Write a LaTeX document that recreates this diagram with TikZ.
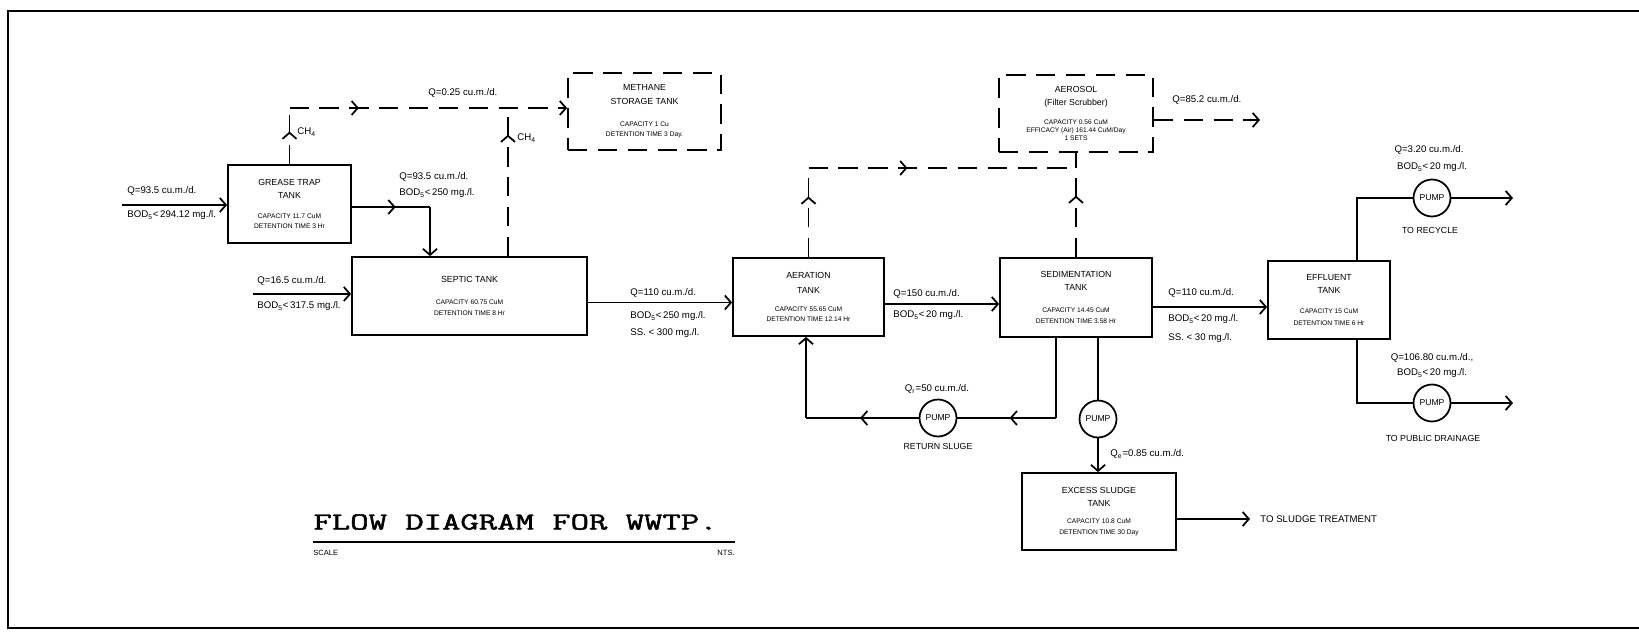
\documentclass[tikz,border=0pt]{standalone}
\usepackage{fontspec}
\setmainfont{Liberation Sans}
\newfontfamily\titlefont{Latin Modern Mono}[AutoFakeBold=1.6]
\usetikzlibrary{arrows.meta,positioning,decorations.markings}

\newcommand{\tanknote}{\fontsize{3.8}{7.5}\selectfont}
\newcommand{\bod}{BOD\textsubscript{5}<\,}

\begin{document}
\begin{tikzpicture}[x=0.02cm, y=-0.02cm,
    >={Straight Barb[length=3.5pt,width=8pt]},
    tank/.style={draw, line width=1pt, inner sep=0pt, align=center, font=\fontsize{5}{7.5}\selectfont},
    gastank/.style={tank, dash pattern=on 11pt off 6pt},
    pump/.style={draw, circle, line width=1pt, minimum size=0.74cm, inner sep=0pt, font=\fontsize{4.9}{6}\selectfont},
    lbl/.style={font=\fontsize{5.5}{7}\selectfont, inner sep=0pt},
    dest/.style={font=\fontsize{5}{6}\selectfont, inner sep=0pt},
    pipe/.style={line width=1pt},
    flow/.style={pipe, ->},
    gas/.style={pipe, dash pattern=on 11pt off 6pt},
    midarrow/.style={postaction={decorate}, decoration={markings, mark=at position #1 with {\arrow{>}}}},
]
\useasboundingbox (0,0) rectangle (1639,635);

% sheet border
\draw[line width=1pt] (1639,11) -- (8,11) -- (8,628) -- (1639,628);

% Tanks
\node[tank, minimum width=2.46cm, minimum height=1.56cm] (grease) at (289.5,204)
    {GREASE TRAP\\TANK\\[3.5pt]\tanknote CAPACITY 11.7 CuM\\[-1.5pt]\tanknote DETENTION TIME 3 Hr};
\node[tank, minimum width=4.70cm, minimum height=1.56cm] (septic) at (469.5,296)
    {SEPTIC TANK\\[5pt]\tanknote CAPACITY 60.75 CuM\\[-1.5pt]\tanknote DETENTION TIME 8 Hr};
\node[gastank, minimum width=3.06cm, minimum height=1.54cm] (methane) at (644.5,111.5)
    {METHANE\\STORAGE TANK\\[5pt]\tanknote CAPACITY 1 Cu\\[-1.5pt]\tanknote DETENTION TIME 3 Day.};
\node[tank, minimum width=3.02cm, minimum height=1.56cm] (aeration) at (808.5,297)
    {AERATION\\[1.5pt]TANK\\[2.5pt]\tanknote CAPACITY 55.65 CuM\\[-1.5pt]\tanknote DETENTION TIME 12.14 Hr};
\node[tank, minimum width=3.04cm, minimum height=1.58cm] (sed) at (1076,297.5)
    {SEDIMENTATION\\TANK\\[5pt]\tanknote CAPACITY 14.45 CuM\\[-1.5pt]\tanknote DETENTION TIME 3.58 Hr};
\node[gastank, minimum width=3.08cm, minimum height=1.54cm] (aerosol) at (1076,113.5)
    {AEROSOL\\(Filter Scrubber)\\[3pt]\tanknote CAPACITY 0.56 CuM\\[-3pt]\tanknote EFFICACY (Air) 161.44 CuM/Day\\[-3pt]\tanknote 1 SETS};
\node[tank, minimum width=2.44cm, minimum height=1.56cm] (effluent) at (1329,300)
    {EFFLUENT\\TANK\\[4pt]\tanknote CAPACITY 15 CuM\\[-1pt]\tanknote DETENTION TIME 6 Hr};
\node[tank, minimum width=3.08cm, minimum height=1.54cm] (excess) at (1099,511.5)
    {EXCESS SLUDGE\\TANK\\[2pt]\tanknote CAPACITY 10.8 CuM\\[-1.5pt]\tanknote DETENTION TIME 30 Day};

% Pumps
\node[pump] (rspump) at (938,418) {PUMP};
\node[pump] (wspump) at (1098,419) {PUMP};
\node[pump] (rcpump) at (1432,198) {PUMP};
\node[pump] (drpump) at (1432,403) {PUMP};

% Turning points and free ends
\coordinate (in1) at (122,205);
\coordinate (in2) at (253,294);
\coordinate (gsturn) at (430,207);
\coordinate (gasline) at (290,108);
\coordinate (gasjoin) at (508,108);
\coordinate (airline) at (809,168);
\coordinate (airjoin) at (1076,168);
\coordinate (gasout) at (1260,120);
\coordinate (rcturn) at (1357,198);
\coordinate (drturn) at (1357,403);
\coordinate (rcout) at (1513,198);
\coordinate (drout) at (1513,403);
\coordinate (rsdown) at (1056,418);
\coordinate (rsup) at (806,418);
\coordinate (sludgeout) at (1250,519);

% Raw sewage inlets
\draw[flow] (in1) -- (in1 -| grease.west);
\draw[flow] (in2) -- (in2 -| septic.west);
\node[lbl, anchor=west] (qin1) at (127,191) {Q=93.5 cu.m./d.};
\node[lbl, anchor=west] (bodin1) at (127,215) {\bod 294.12 mg./l.};
\node[lbl, anchor=west] (qin2) at (257,281) {Q=16.5 cu.m./d.};
\node[lbl, anchor=west] (bodin2) at (257,306) {\bod 317.5 mg./l.};

% Grease trap to septic tank
\draw[pipe, midarrow=0.56] (grease.east |- gsturn) -- (gsturn);
\draw[flow] (gsturn) -- (gsturn |- septic.north);
\node[lbl, anchor=west] (qgs) at (399,177) {Q=93.5 cu.m./d.};
\node[lbl, anchor=west] (bodgs) at (399,193) {\bod 250 mg./l.};

% Methane collection (dashed)
\draw[gas, midarrow=0.58] (grease.north) -- (grease.north |- gasline);
\draw[gas, midarrow=0.25, ->] (grease.north |- gasline) -- (gasline -| methane.west);
\draw[gas, midarrow=0.82] (septic.north -| gasjoin) -- (gasjoin);
\node[lbl, anchor=west] (ch4a) at (297,132) {CH\textsubscript{4}};
\node[lbl, anchor=west] (ch4b) at (517,138) {CH\textsubscript{4}};
\node[lbl, anchor=west] (qgas) at (428,93) {Q=0.25 cu.m./d.};

% Main treatment line
\draw[flow] ([yshift=-0.13cm]septic.east) -- ([yshift=-0.13cm]septic.east -| aeration.west);
\draw[flow] ([yshift=-0.14cm]aeration.east) -- ([yshift=-0.14cm]aeration.east -| sed.west);
\draw[flow] ([yshift=-0.19cm]sed.east) -- ([yshift=-0.19cm]sed.east -| effluent.west);
\node[lbl, anchor=west] (qsa) at (630,293) {Q=110 cu.m./d.};
\node[lbl, anchor=west] (bodsa) at (630,316) {\bod 250 mg./l.};
\node[lbl, anchor=west] (sssa) at (630,333) {SS. < 300 mg./l.};
\node[lbl, anchor=west] (qas) at (893,294) {Q=150 cu.m./d.};
\node[lbl, anchor=west] (bodas) at (893,315) {\bod 20 mg./l.};
\node[lbl, anchor=west] (qse) at (1168,293) {Q=110 cu.m./d.};
\node[lbl, anchor=west] (bodse) at (1168,319) {\bod 20 mg./l.};
\node[lbl, anchor=west] (ssse) at (1168,338) {SS. < 30 mg./l.};

% Off-gas to scrubber (dashed)
\draw[gas, midarrow=0.68] (aeration.north) -- (aeration.north |- airline);
\draw[gas, midarrow=0.37] (aeration.north |- airline) -- (airjoin);
\draw[gas, midarrow=0.59] (sed.north) -- (aerosol.south);
\draw[gas, ->] (aerosol.east |- gasout) -- (gasout);
\node[lbl, anchor=west] (qair) at (1172,100) {Q=85.2 cu.m./d.};

% Effluent outlets
\draw[pipe] (effluent.north -| rcturn) -- (rcturn) -- (rcpump.west);
\draw[flow] (rcpump.east) -- (rcout);
\draw[pipe] (effluent.south -| drturn) -- (drturn) -- (drpump.west);
\draw[flow] (drpump.east) -- (drout);
\node[lbl] (qrc) at (1429,150) {Q=3.20 cu.m./d.};
\node[lbl] (bodrc) at (1432,167) {\bod 20 mg./l.};
\node[dest] (torc) at (1430,230) {TO RECYCLE};
\node[lbl] (qdr) at (1432,358) {Q=106.80 cu.m./d.,};
\node[lbl] (boddr) at (1432,373) {\bod 20 mg./l.};
\node[dest] (todr) at (1433,438) {TO PUBLIC DRAINAGE};

% Return sludge loop
\draw[pipe] (sed.south -| rsdown) -- (rsdown);
\draw[pipe, midarrow=0.47] (rsdown) -- (rspump.east);
\draw[pipe, midarrow=0.52] (rspump.west) -- (rsup);
\draw[flow] (rsup) -- (rsup |- aeration.south);
\node[lbl] (qr) at (937,389) {Q\textsubscript{r}=50 cu.m./d.};
\node[dest] (rsname) at (938,446) {RETURN SLUGE};

% Waste sludge
\draw[pipe] (sed.south -| wspump) -- (wspump);
\draw[flow] (wspump) -- (wspump |- excess.north);
\node[lbl, anchor=west] (qe) at (1110,454) {Q\textsubscript{e}=0.85 cu.m./d.};
\draw[flow] (excess.east |- sludgeout) -- (sludgeout);
\node[lbl, anchor=west] (tosl) at (1260,519) {TO SLUDGE TREATMENT};

% Title block
\node[anchor=west, inner sep=0pt, font=\titlefont\bfseries\fontsize{14}{14}\selectfont, xscale=1.45] (title) at (313,522) {FLOW DIAGRAM FOR WWTP.};
\coordinate (rulel) at (313,542);
\coordinate (ruler) at (735,542);
\draw[line width=1pt] (rulel) -- (ruler);
\node[anchor=west, inner sep=0pt, font=\fontsize{4.3}{5}\selectfont] (scale) at (313,553) {SCALE};
\node[anchor=east, inner sep=0pt, font=\fontsize{4.3}{5}\selectfont] (nts) at (735,553) {NTS.};

\end{tikzpicture}
\end{document}
